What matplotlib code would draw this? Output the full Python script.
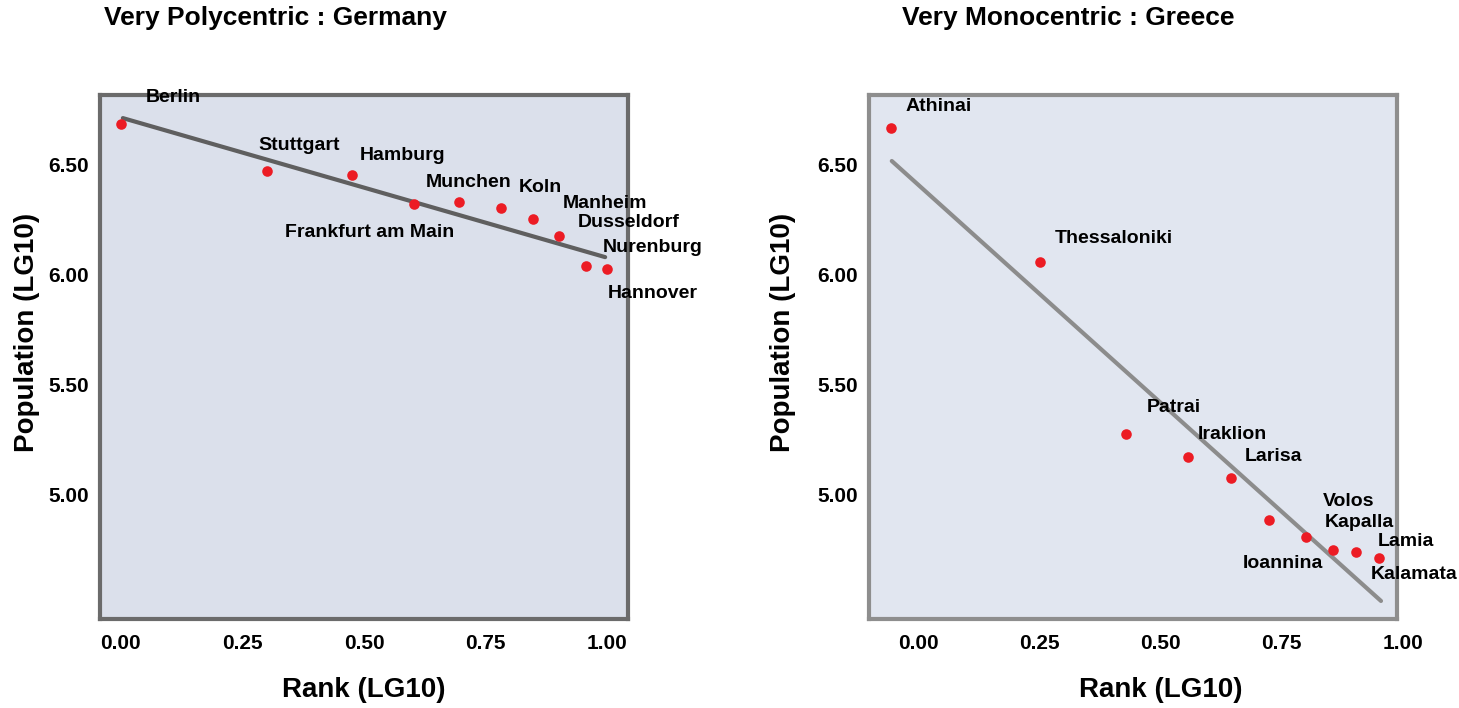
import matplotlib
matplotlib.use('Agg')
import matplotlib.pyplot as plt
from matplotlib import transforms

plt.rcParams['font.family'] = ['Liberation Sans', 'DejaVu Sans']
plt.rcParams['font.weight'] = 'bold'

# Germany
de_cities = ['Berlin', 'Stuttgart', 'Hamburg', 'Frankfurt am Main', 'Munchen',
             'Koln', 'Manheim', 'Dusseldorf', 'Nurenburg', 'Hannover']
de_rank = [0.0, 0.30, 0.475, 0.603, 0.695, 0.782, 0.848, 0.901, 0.957, 1.0]
de_pop = [6.682, 6.468, 6.450, 6.318, 6.327, 6.300, 6.250, 6.173, 6.036, 6.023]
de_fit_x = [0.004, 0.996]
de_fit_y = [6.709, 6.077]

# Greece
gr_cities = ['Athinai', 'Thessaloniki', 'Patrai', 'Iraklion', 'Larisa',
             'Volos', 'Ioannina', 'Kapalla', 'Lamia', 'Kalamata']
gr_rank = [-0.056, 0.252, 0.429, 0.557, 0.645, 0.724, 0.800, 0.856, 0.903, 0.951]
gr_pop = [6.664, 6.055, 5.273, 5.168, 5.073, 4.882, 4.805, 4.745, 4.736, 4.709]
gr_fit_x = [-0.054, 0.955]
gr_fit_y = [6.514, 4.514]

rank_ticks = [0.0, 0.25, 0.5, 0.75, 1.0]
pop_ticks = [5.0, 5.5, 6.0, 6.5]

# label offsets in pixels (dx, dy)
de_offsets = [(25, 27), (-8, 26), (8, 20), (-129, -28), (-33, 20),
              (18, 21), (30, 16), (19, 14), (17, 19), (1, -24)]
gr_offsets = [(15, 21), (15, 23), (21, 26), (10, 23), (14, 21),
              (54, 19), (-63, -27), (-8, 28), (22, 11), (-8, -16)]

W, H = 1459, 708
fig = plt.figure(figsize=(W / 100, H / 100), dpi=100)


def panel(left_px, xlim, face, edge, line_col, title, title_x,
          ylab_x, cities, rank, pop, fit_x, fit_y, offsets):
    ax = fig.add_axes([left_px / W, 89 / H, 528 / W, 524 / H])
    ax.set_facecolor(face)
    for s in ax.spines.values():
        s.set_color(edge)
        s.set_linewidth(3)
    ax.set_xlim(*xlim)
    ax.set_ylim(4.432, 6.814)
    ax.set_yticks(pop_ticks)
    ax.set_yticklabels(['%.2f' % v for v in pop_ticks])
    ax.tick_params(axis='y', length=0, pad=8, labelsize=15)
    ax.set_xticks([])

    ax.plot(fit_x, fit_y, color=line_col, lw=3, solid_capstyle='round', zorder=2)
    ax.scatter(rank, pop, s=58, color='#ec1c24', zorder=3, linewidths=0)
    for name, x, y, (dx, dy) in zip(cities, rank, pop, offsets):
        ax.annotate(name, (x, y), xytext=(dx, dy), textcoords='offset pixels',
                    ha='left', va='center', fontsize=14, annotation_clip=False)

    # tick labels below the box (1.00 may fall outside the frame)
    trans = transforms.blended_transform_factory(ax.transData, fig.transFigure)
    for v in rank_ticks:
        ax.text(v, 1 - 634 / H, '%.2f' % v, transform=trans, ha='center',
                va='top', fontsize=15, clip_on=False)
    ax.text(0.5, 1 - 690 / H, 'Rank (LG10)', transform=trans, ha='center',
            va='center', fontsize=20, clip_on=False)

    fig.text(ylab_x / W, 1 - 332 / H, 'Population (LG10)', rotation=90,
             ha='center', va='center', fontsize=20)
    fig.text(title_x / W, 1 - 25 / H, title, ha='left', va='baseline', fontsize=19)
    return ax


panel(100, (-0.043, 1.043), '#dbe0eb', '#6b6b6b', '#5f5f5f',
      'Very Polycentric : Germany', 104, 27,
      de_cities, de_rank, de_pop, de_fit_x, de_fit_y, de_offsets)
panel(869, (-0.101, 0.988), '#e1e6f0', '#8e8e8e', '#8c8c8c',
      'Very Monocentric : Greece', 902, 783,
      gr_cities, gr_rank, gr_pop, gr_fit_x, gr_fit_y, gr_offsets)

fig.savefig('out.png', dpi=100)
